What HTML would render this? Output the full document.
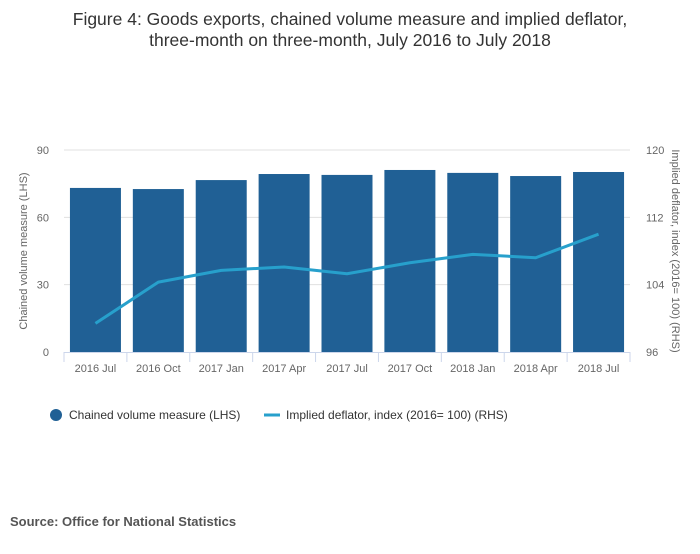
<!DOCTYPE html>
<html><head><meta charset="utf-8"><style>
body{margin:0;background:#fff;font-family:"Liberation Sans",sans-serif;}
</style></head><body>
<svg id="c" width="700" height="549" xmlns="http://www.w3.org/2000/svg">
<text x="350" y="25" text-anchor="middle" font-size="17.5" fill="#333">Figure 4: Goods exports, chained volume measure and implied deflator,</text>
<text x="350" y="46" text-anchor="middle" font-size="17.5" fill="#333">three-month on three-month, July 2016 to July 2018</text>
<g id="grid"></g><g id="bars"></g><g id="line"></g><g id="axes"></g>
<text transform="translate(27,251) rotate(-90)" text-anchor="middle" font-size="11" fill="#666">Chained volume measure (LHS)</text>
<text transform="translate(672,251) rotate(90)" text-anchor="middle" font-size="11" fill="#666">Implied deflator, index (2016= 100) (RHS)</text>
<circle cx="56" cy="415" r="6" fill="#206095"/>
<text x="69" y="419" font-size="12" fill="#333">Chained volume measure (LHS)</text>
<line x1="264" y1="415" x2="280" y2="415" stroke="#27a0cc" stroke-width="3"/>
<text x="286" y="419" font-size="12" fill="#333">Implied deflator, index (2016= 100) (RHS)</text>
<text x="10" y="526" font-size="13" font-weight="bold" fill="#555">Source: Office for National Statistics</text>
</svg>
<script>
const categories=["2016 Jul","2016 Oct","2017 Jan","2017 Apr","2017 Jul","2017 Oct","2018 Jan","2018 Apr","2018 Jul"];
const volume=[73.1,72.6,76.6,79.3,78.9,81.1,79.8,78.4,80.2];
const deflator=[99.4,104.3,105.7,106.1,105.3,106.6,107.6,107.2,110.0];
const leftTicks=[0,30,60,90];
const rightTicks=[96,104,112,120];
const NS="http://www.w3.org/2000/svg";
const L=64,R=630,T=150,B=352;
const yL=v=>B-(v/90)*(B-T);
const yR=v=>B-((v-96)/24)*(B-T);
const band=(R-L)/categories.length;
const xC=i=>L+band*(i+0.5);
function mk(p,tag,a){const e=document.createElementNS(NS,tag);for(const k in a)e.setAttribute(k,a[k]);document.getElementById(p).appendChild(e);return e;}
leftTicks.forEach((t,i)=>{
 if(t>0){const g=mk('grid','line',{x1:L,x2:R,y1:yL(t),y2:yL(t),stroke:'#e0e0e0'});
 
 }
 const e=mk('axes','text',{x:L-15,y:yL(t)+4,'text-anchor':'end','font-size':11,fill:'#666'});e.textContent=t;
 
 
});
rightTicks.forEach(t=>{
 const e=mk('axes','text',{x:R+16,y:yR(t)+4,'font-size':11,fill:'#666'});e.textContent=t;
 
 
});
const ax=mk('axes','line',{x1:L,x2:R,y1:B+0.5,y2:B+0.5,stroke:'#ccd6eb'});


for(let i=0;i<=categories.length;i++){
 const tk=mk('axes','line',{x1:L+band*i,x2:L+band*i,y1:B,y2:B+10,stroke:'#ccd6eb'});
 
 
}
categories.forEach((c,i)=>{
 const b=mk('bars','rect',{x:xC(i)-25.5,width:51,y:yL(volume[i]),height:B-yL(volume[i]),fill:'#206095'});
 
 
 const t=mk('axes','text',{x:xC(i),y:B+20,'text-anchor':'middle','font-size':11,fill:'#666'});t.textContent=c;
 
 
});
const p=mk('line','polyline',{points:deflator.map((v,i)=>xC(i)+','+yR(v)).join(' '),fill:'none',stroke:'#27a0cc','stroke-width':3,'stroke-linejoin':'round'});


</script>
</body></html>
